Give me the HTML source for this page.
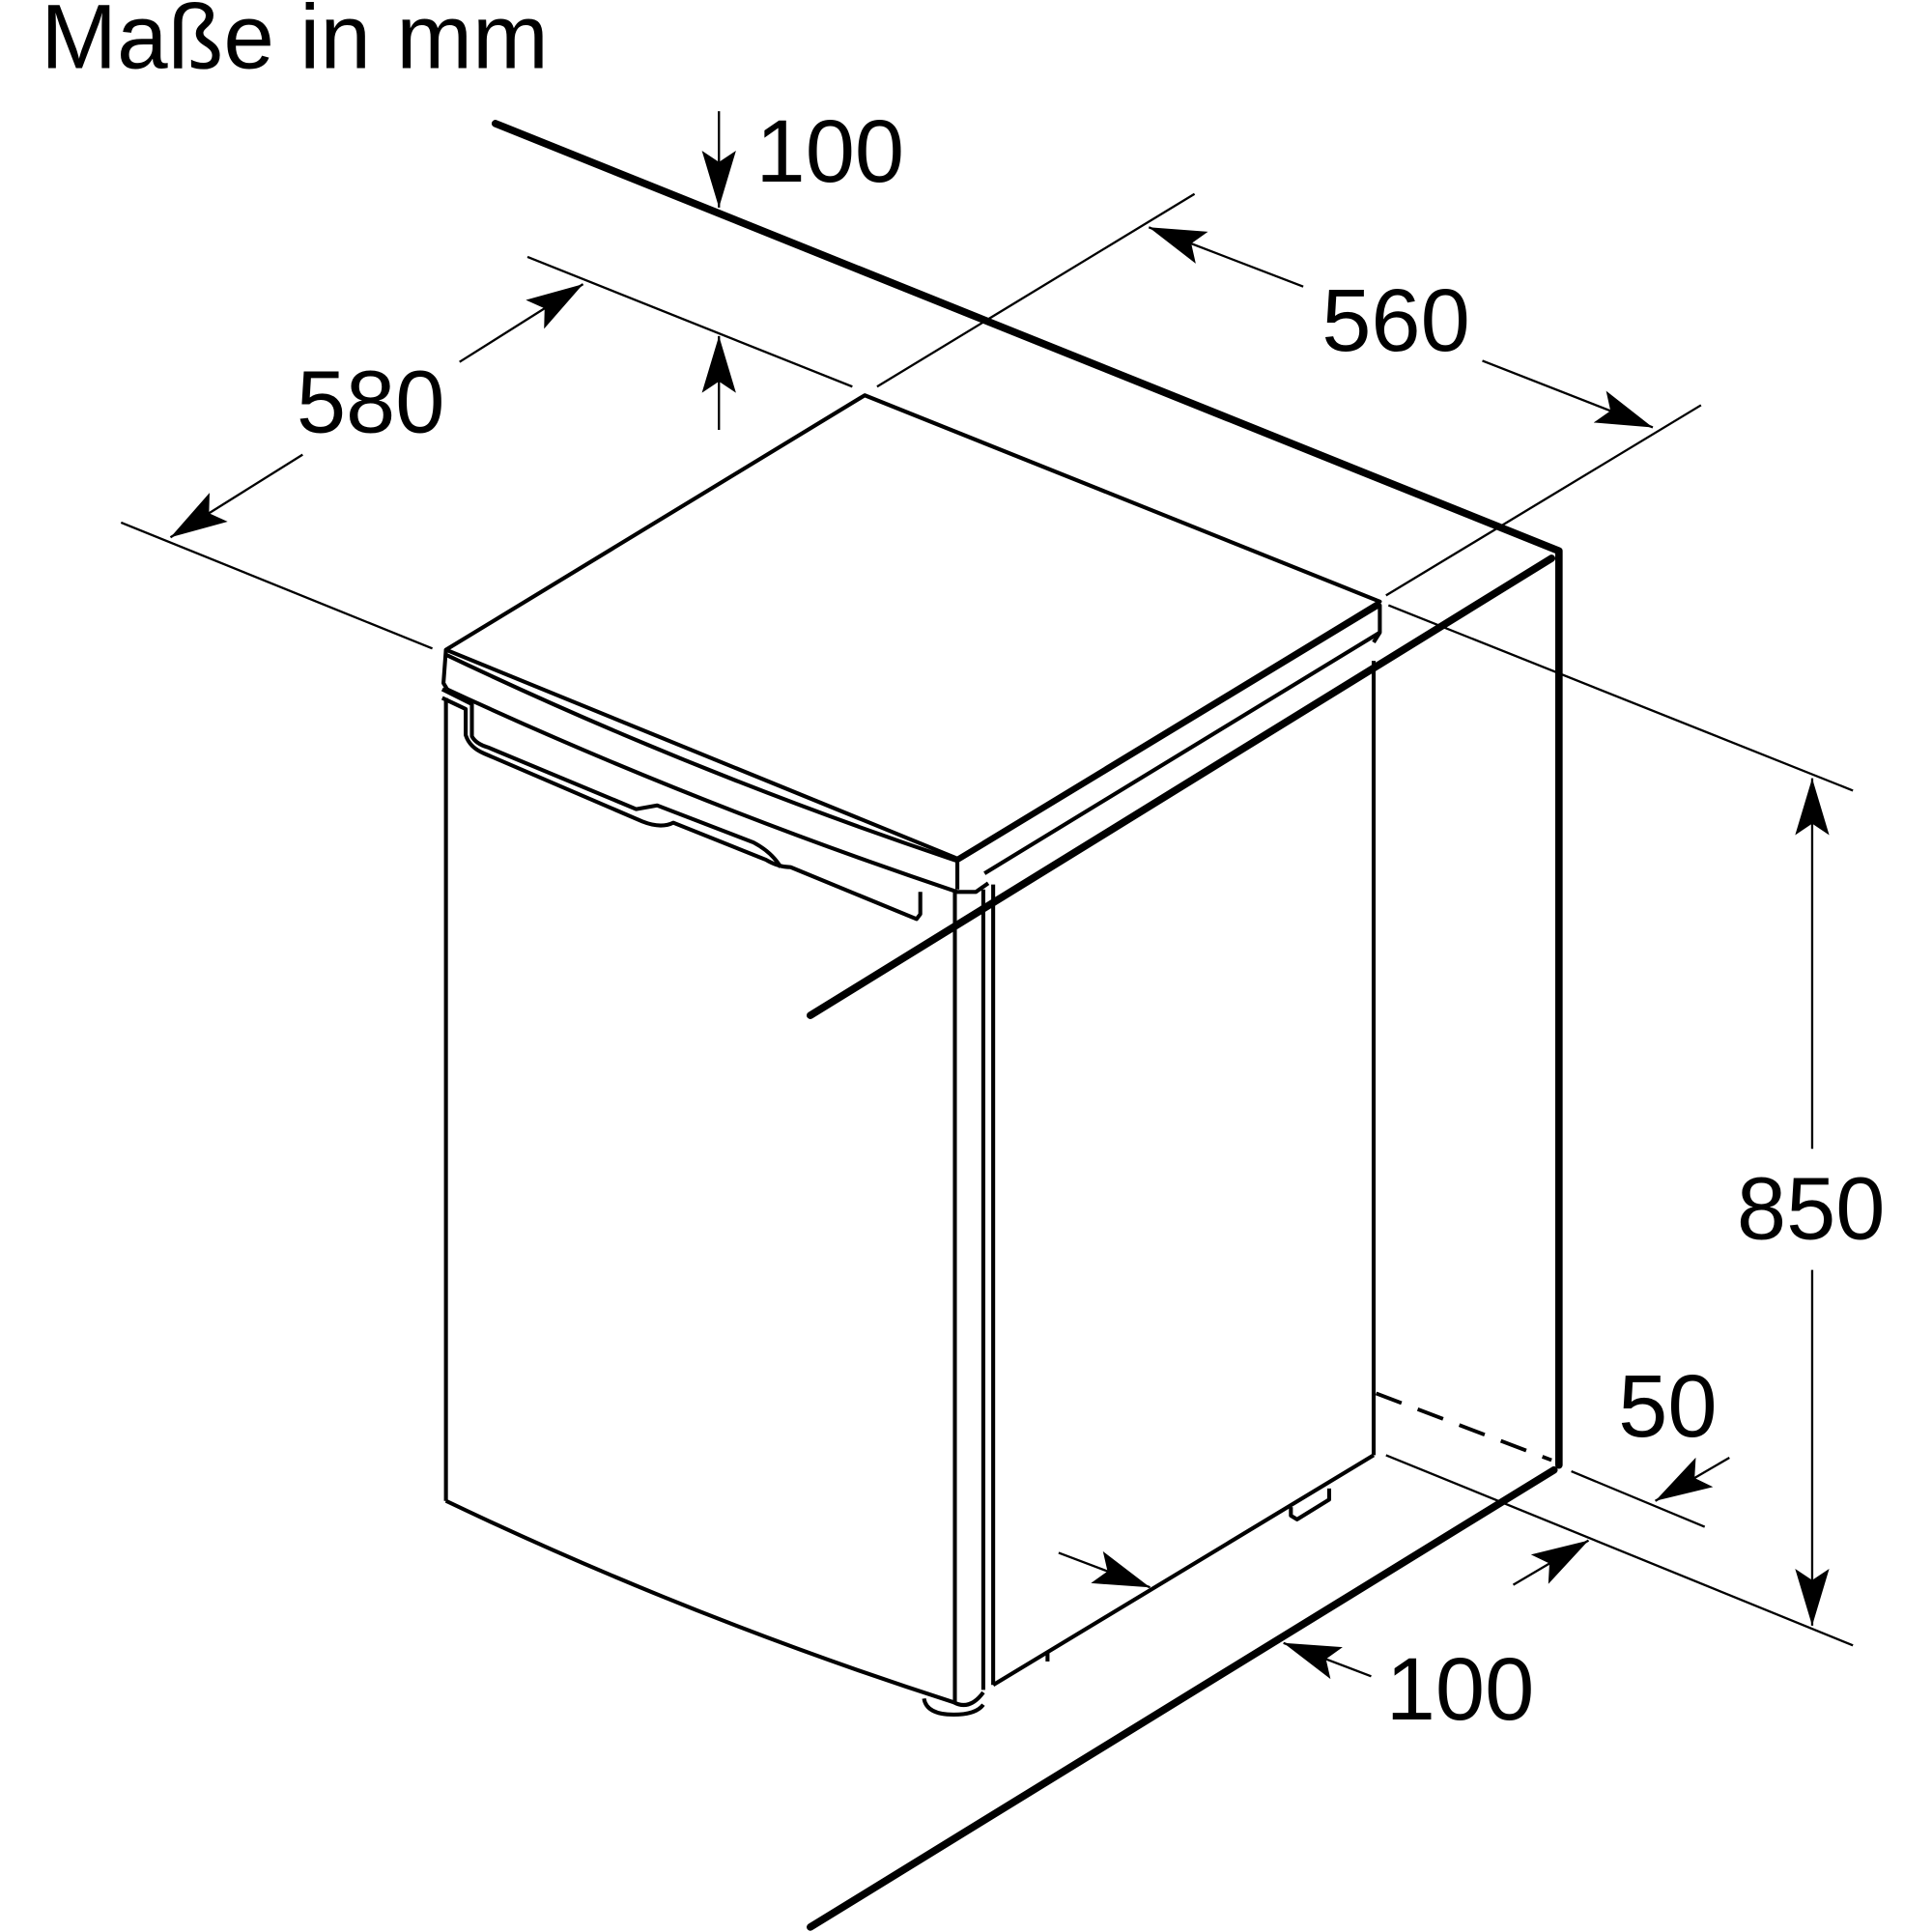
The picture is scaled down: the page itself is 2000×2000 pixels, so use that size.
<!DOCTYPE html>
<html><head><meta charset="utf-8"><style>html,body{margin:0;padding:0;background:#fff}svg{display:block}</style></head>
<body>
<svg width="2000" height="2000" viewBox="0 0 1564 1564" xmlns="http://www.w3.org/2000/svg">
<defs>
<marker id="b" viewBox="0 0 10 6" refX="10" refY="3" markerWidth="46" markerHeight="28" markerUnits="userSpaceOnUse" orient="auto"><path d="M0,0 L10,3 L0,6 L2,3 z" fill="#000"/></marker>
</defs>
<text x="33" y="55" font-family="Liberation Sans, sans-serif" font-size="74">Maße in mm</text>
<g font-family="Liberation Sans, sans-serif" font-size="72" text-anchor="middle">
<text x="672" y="147">100</text>
<text x="300" y="350">580</text>
<text x="1130" y="284">560</text>
<text x="1466" y="1003">850</text>
<text x="1350" y="1163">50</text>
<text x="1182" y="1392">100</text>
</g>
<g stroke="#000" stroke-width="6" fill="none" stroke-linecap="round" stroke-linejoin="round">
<polyline points="401,100 1262,446 1262,1186"/>
<line x1="1256" y1="452" x2="656" y2="822"/>
<line x1="1258" y1="1190" x2="656" y2="1560"/>
</g>
<line x1="1114" y1="1128" x2="1256" y2="1182" stroke="#000" stroke-width="3" stroke-dasharray="22,14"/>
<g stroke="#000" stroke-width="3.2" fill="none" stroke-linejoin="round">
<polygon points="361,526 700,320 1117,487 775,695" fill="#fff"/>
<path d="M361,526 L359,553 L362,558 M361,530 Q560,625 775,697 L775,720 M775,697 L1117,490 L1117,512 L797,707 M1117,512 L1112,520"/>
<path d="M362,558 Q560,650 775,722 L790,722 L800,715"/>
<path d="M358,565 L377,574 L377,595 Q380,605 392,610 L520,665 Q535,671 545,666 L620,696 Q630,702 640,702 L742,744 L745,740 L745,722"/>
<path d="M358,558 L382,570 L382,596 Q385,602 395,605 L515,655 L532,652 L610,682 Q625,690 632,702"/>
<line x1="361" y1="565" x2="361" y2="1215"/>
<path d="M361,1215 Q560,1310 772,1378"/>
<line x1="773" y1="722" x2="773" y2="1378"/>
<line x1="796" y1="720" x2="796" y2="1368"/>
<line x1="804" y1="716" x2="804" y2="1364"/>
<line x1="1112" y1="535" x2="1112" y2="1178"/>
<path d="M1112,1178 L804,1364 M772,1378 Q785,1385 796,1370"/>
<path d="M748,1375 Q750,1388 772,1388 Q790,1388 796,1380"/>
<path d="M1045,1220 L1045,1227 L1050,1230 L1076,1214 L1076,1205"/>
<path d="M848,1338 L848,1345"/>
<line x1="806" y1="730" x2="1112" y2="540"/>
</g>
<g stroke="#000" stroke-width="1.8" fill="none">
<line x1="427" y1="208" x2="690" y2="313"/>
<line x1="98" y1="423" x2="350" y2="525"/>
<line x1="372" y1="293" x2="472" y2="230" marker-end="url(#b)"/>
<line x1="245" y1="368" x2="138" y2="435" marker-end="url(#b)"/>
<line x1="967" y1="157" x2="710" y2="313"/>
<line x1="1377" y1="328" x2="1122" y2="482"/>
<line x1="1055" y1="232" x2="930" y2="184" marker-end="url(#b)"/>
<line x1="1200" y1="292" x2="1338" y2="346" marker-end="url(#b)"/>
<line x1="582" y1="90" x2="582" y2="168" marker-end="url(#b)"/>
<line x1="582" y1="348" x2="582" y2="272" marker-end="url(#b)"/>
<line x1="1124" y1="490" x2="1500" y2="640"/>
<line x1="1122" y1="1178" x2="1500" y2="1332"/>
<line x1="1467" y1="930" x2="1467" y2="630" marker-end="url(#b)"/>
<line x1="1467" y1="1028" x2="1467" y2="1316" marker-end="url(#b)"/>
<line x1="1272" y1="1191" x2="1380" y2="1236"/>
<line x1="1400" y1="1180" x2="1340" y2="1215" marker-end="url(#b)"/>
<line x1="1225" y1="1283" x2="1286" y2="1247" marker-end="url(#b)"/>
<line x1="857" y1="1257" x2="931" y2="1285" marker-end="url(#b)"/>
<line x1="1110" y1="1357" x2="1039" y2="1330" marker-end="url(#b)"/>
</g>
</svg>
</body></html>
